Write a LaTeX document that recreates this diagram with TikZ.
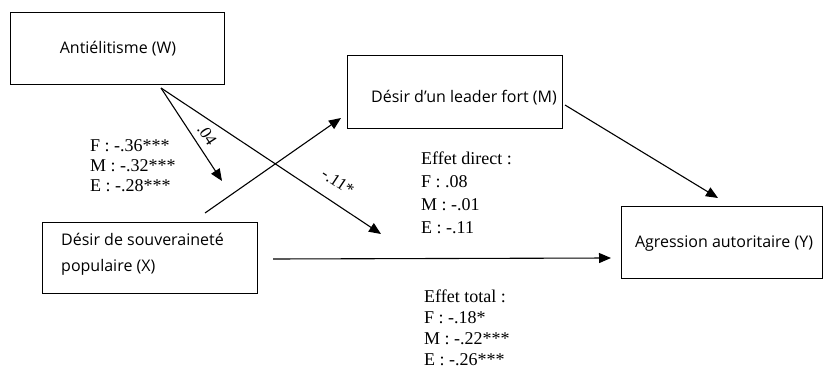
\documentclass[tikz,border=0pt]{standalone}
\usepackage{fontspec}
\setmainfont{Liberation Serif}
\newfontfamily\boxfont{Open Sans}
\usetikzlibrary{arrows.meta}
\begin{document}
\begin{tikzpicture}[x=1pt,y=-1pt,
  box/.style={draw, line width=1.1pt, inner sep=0pt, anchor=north west},
  boxtext/.style={font=\boxfont\fontsize{16}{26}\selectfont, inner sep=0pt},
  coef/.style={font=\fontsize{18}{20}\selectfont, inner sep=0pt, align=left, anchor=north west},
  conn/.style={line width=1.1pt, -{Triangle[length=12pt,width=10pt]}},
  slope/.style={font=\fontsize{17}{20}\selectfont, inner sep=0pt}]
\useasboundingbox (0,0) rectangle (824,374);

% boxes
\node[box, minimum width=214pt, minimum height=72pt] (W) at (10,12) {};
\node[box, minimum width=215pt, minimum height=73pt] (M) at (347,55) {};
\node[box, minimum width=215pt, minimum height=71pt] (X) at (42,222) {};
\node[box, minimum width=201pt, minimum height=72pt] (Y) at (621,206) {};

% box texts
\node[boxtext] (Wt) at (118,49) {Antiélitisme (W)};
\node[boxtext] (Mt) at (464,98) {Désir d’un leader fort (M)};
\node[boxtext] (Yt) at (724,244) {Agression autoritaire (Y)};
\node[boxtext, align=left, anchor=west] (Xt) at (61,254) {Désir de souveraineté\\populaire (X)};

% connector end points
\coordinate (wsrc) at (161,88);
\coordinate (wend1) at (222,181);
\coordinate (wend2) at (381,234);
\coordinate (xsrc) at (205,213);
\coordinate (mend) at (341,118);
\coordinate (msrc) at (565,105);
\coordinate (yend1) at (718,198);
\coordinate (xsrc2) at (273,259);
\coordinate (yend2) at (611,258);

% connectors
\draw[conn] (wsrc) -- (wend1);
\draw[conn] (wsrc) -- (wend2);
\draw[conn] (xsrc) -- (mend);
\draw[conn] (msrc) -- (yend1);
\draw[conn] (xsrc2) -- (yend2);

% slope labels
\node[slope, rotate=-57] (l04) at (207,135) {.04};
\node[slope, rotate=-33.6] (l11) at (338,182) {-.11*};

% coefficient blocks
\node[coef] (cw) at (90,139) {F : -.36***\\M : -.32***\\E : -.28***};
\node[coef, font=\fontsize{18}{23}\selectfont] (cd) at (421,152) {Effet direct :\\F : .08\\M : -.01\\E : -.11};
\node[coef, font=\fontsize{18}{21}\selectfont] (ct) at (424,290) {Effet total :\\F : -.18*\\M : -.22***\\E : -.26***};
\end{tikzpicture}
\end{document}
